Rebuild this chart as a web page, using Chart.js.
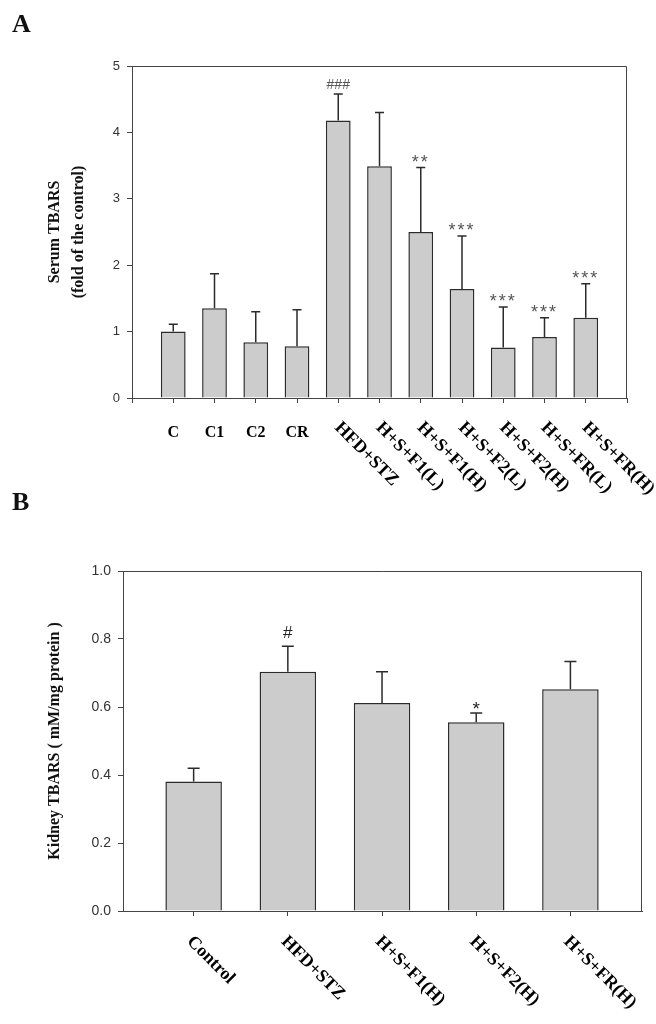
<!DOCTYPE html>
<html>
<head>
<meta charset="utf-8">
<script src="https://cdn.jsdelivr.net/npm/chart.js@4/dist/chart.umd.min.js"></script>
<style>
  html, body { margin: 0; padding: 0; background: #fff; }
  body { width: 656px; height: 1024px; position: relative; overflow: hidden; }
  canvas { position: absolute; left: 0; }
  .letter { position: absolute; left: 12px; z-index: 2; font: bold 26px/26px "Liberation Serif", "Times New Roman", serif; color: #111; }
</style>
</head>
<body>
<div class="letter" style="top: 11px">A</div>
<canvas id="chartA" width="656" height="530" style="top: 0"></canvas>
<div class="letter" style="top: 489px">B</div>
<canvas id="chartB" width="656" height="494" style="top: 530px"></canvas>
<script>
// panel A - serum TBARS
const categoriesA = ['C', 'C1', 'C2', 'CR', 'HFD+STZ', 'H+S+F1(L)', 'H+S+F1(H)', 'H+S+F2(L)', 'H+S+F2(H)', 'H+S+FR(L)', 'H+S+FR(H)'];
const meansA = [1.00, 1.35, 0.84, 0.78, 4.18, 3.49, 2.50, 1.64, 0.76, 0.92, 1.21];
const sdA = [0.11, 0.52, 0.46, 0.55, 0.40, 0.81, 0.97, 0.80, 0.61, 0.29, 0.51];
const marksA = ['', '', '', '', '###', '', '**', '***', '***', '***', '***'];
const yTicksA = [0, 1, 2, 3, 4, 5];

// panel B - kidney TBARS
const categoriesB = ['Control', 'HFD+STZ', 'H+S+F1(H)', 'H+S+F2(H)', 'H+S+FR(H)'];
const meansB = [0.381, 0.704, 0.612, 0.555, 0.652];
const sdB = [0.039, 0.075, 0.092, 0.027, 0.082];
const marksB = ['', '#', '', '*', ''];
const yTicksB = [0, 0.2, 0.4, 0.6, 0.8, 1.0];

const serif = '"Liberation Serif", "Times New Roman", serif';
const sans = '"Liberation Sans", Arial, sans-serif';

const panels = {
    chartA: {
        categories: categoriesA, means: meansA, sd: sdA, marks: marksA, yTicks: yTicksA,
        firstX: 1, xMin: 0, xMax: 12, xTicks: [0, 1, 2, 3, 4, 5, 6, 7, 8, 9, 10, 11, 12],
        padding: {top: 66, right: 29, left: 0, bottom: 0}, yWidth: 132, xHeight: 132,
        tickSize: 13, fmt: v => String(v),
        yTitle: ['Serum TBARS', '(fold of the control)'],
        cap: 9, rotateFrom: 4, labelDx: -1, labelDy: 27,
        hashFont: 14, starFont: 18, markColor: '#555', gapHash: 10, gapStar: 10, starSpacing: '2px'
    },
    chartB: {
        categories: categoriesB, means: meansB, sd: sdB, marks: marksB, yTicks: yTicksB,
        firstX: 0, xMin: -0.75, xMax: 4.76, xTicks: [0, 1, 2, 3, 4],
        padding: {top: 41, right: 14, left: 0, bottom: 0}, yWidth: 123, xHeight: 113,
        tickSize: 14, fmt: v => v.toFixed(1),
        yTitle: 'Kidney TBARS ( mM/mg protein )',
        cap: 12, rotateFrom: 0, labelDx: -4, labelDy: 28,
        hashFont: 17, starFont: 19, markColor: '#222', gapHash: 14, gapStar: 9, starSpacing: '0px'
    }
};

const panelPlugin = {
    id: 'panel',
    afterDatasetsDraw(chart) {
        const p = panels[chart.canvas.id];
        const {ctx, chartArea: a, scales: {y}} = chart;
        const bars = chart.getDatasetMeta(0).data;
        ctx.save();

        // top and right side of the frame
        ctx.strokeStyle = '#444';
        ctx.lineWidth = 1;
        ctx.beginPath();
        ctx.moveTo(a.left, a.top + 0.5);
        ctx.lineTo(a.right - 0.5, a.top + 0.5);
        ctx.lineTo(a.right - 0.5, a.bottom);
        ctx.stroke();

        // error bars (upper half only) and significance marks
        p.means.forEach((m, i) => {
            const px = bars[i].x;
            const y0 = y.getPixelForValue(m);
            const y1 = y.getPixelForValue(m + p.sd[i]);
            ctx.strokeStyle = '#2b2b2b';
            ctx.lineWidth = 1.5;
            ctx.beginPath();
            ctx.moveTo(px, y0);
            ctx.lineTo(px, y1);
            ctx.moveTo(px - p.cap / 2, y1);
            ctx.lineTo(px + p.cap / 2, y1);
            ctx.stroke();

            const mark = p.marks[i];
            if (mark) {
                const isHash = mark.includes('#');
                const size = isHash ? p.hashFont : p.starFont;
                ctx.font = size + 'px ' + sans;
                ctx.fillStyle = p.markColor;
                ctx.textAlign = 'center';
                ctx.textBaseline = 'alphabetic';
                ctx.letterSpacing = isHash ? '0px' : p.starSpacing;
                const mid = isHash ? 0.35 * size : 0.58 * size;
                const gap = isHash ? p.gapHash : p.gapStar;
                ctx.fillText(mark, px, y1 - gap + mid);
                ctx.letterSpacing = '0px';
            }
        });
        ctx.restore();
    },
    afterDraw(chart) {
        const p = panels[chart.canvas.id];
        const {ctx, chartArea: a} = chart;
        const bars = chart.getDatasetMeta(0).data;
        ctx.save();
        ctx.fillStyle = '#000';
        p.categories.forEach((c, i) => {
            const px = bars[i].x;
            if (i < p.rotateFrom) {
                ctx.font = 'bold 16px ' + serif;
                ctx.textAlign = 'center';
                ctx.textBaseline = 'middle';
                ctx.fillText(c, px, a.bottom + 35);
            } else {
                ctx.save();
                ctx.translate(px + p.labelDx, a.bottom + p.labelDy);
                ctx.rotate(Math.PI / 4);
                ctx.font = 'bold 18px ' + serif;
                ctx.textAlign = 'left';
                ctx.textBaseline = 'middle';
                ctx.fillText(c, 0, 0);
                ctx.restore();
            }
        });
        ctx.restore();
    }
};

function makeChart(id) {
    const p = panels[id];
    const axisLine = {color: '#444', width: 1};
    const tickMarks = {drawOnChartArea: false, drawTicks: true, tickLength: 5, color: '#444', offset: false};
    return new Chart(document.getElementById(id), {
        type: 'bar',
        data: {
            datasets: [{
                data: p.means.map((v, i) => ({x: i + p.firstX, y: v})),
                backgroundColor: '#cccccc',
                borderColor: '#2b2b2b',
                borderWidth: 1.5,
                barPercentage: 0.6,
                categoryPercentage: 1
            }]
        },
        options: {
            responsive: false,
            animation: false,
            layout: {padding: p.padding},
            plugins: {legend: {display: false}, tooltip: {enabled: false}},
            scales: {
                x: {
                    type: 'linear',
                    min: p.xMin,
                    max: p.xMax,
                    offset: false,
                    afterBuildTicks: s => { s.ticks = p.xTicks.map(v => ({value: v})); },
                    afterFit: s => { s.height = p.xHeight; },
                    grid: tickMarks,
                    border: axisLine,
                    ticks: {callback: () => ''}
                },
                y: {
                    min: 0,
                    max: p.yTicks[p.yTicks.length - 1],
                    afterBuildTicks: s => { s.ticks = p.yTicks.map(v => ({value: v})); },
                    afterFit: s => { s.width = p.yWidth; },
                    grid: tickMarks,
                    border: axisLine,
                    ticks: {
                        font: {family: sans, size: p.tickSize},
                        color: '#333',
                        padding: 7,
                        callback: v => p.fmt(v)
                    },
                    title: {
                        display: true,
                        text: p.yTitle,
                        color: '#111',
                        font: {family: serif, size: 16, weight: 'bold', lineHeight: 1.5},
                        padding: {top: 43, bottom: 0}
                    }
                }
            }
        },
        plugins: [panelPlugin]
    });
}

makeChart('chartA');
makeChart('chartB');
</script>
</body>
</html>
